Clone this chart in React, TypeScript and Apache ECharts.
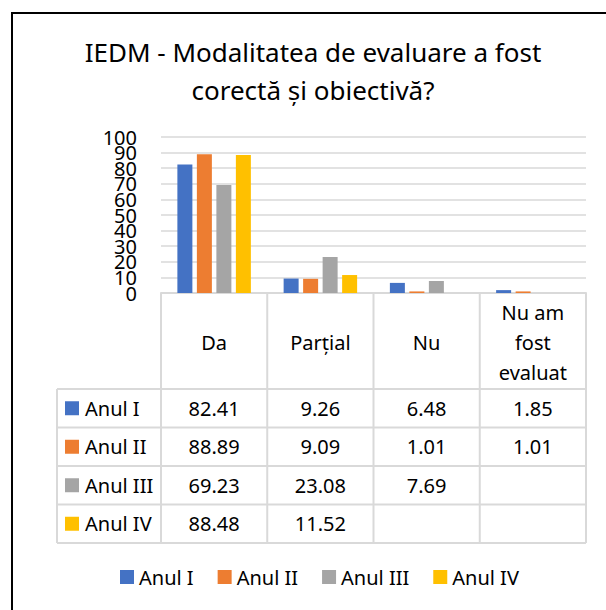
import React, { useEffect, useRef } from "react";
import * as echarts from "echarts";

const titleText = "IEDM - Modalitatea de evaluare a fost\ncorectă și obiectivă?";
const categories = ["Da", "Parțial", "Nu", "Nu am fost evaluat"];
const seriesNames = ["Anul I", "Anul II", "Anul III", "Anul IV"];
const anulI = [82.41, 9.26, 6.48, 1.85];
const anulII = [88.89, 9.09, 1.01, 1.01];
const anulIII = [69.23, 23.08, 7.69, null];
const anulIV = [88.48, 11.52, null, null];
const seriesValues = [anulI, anulII, anulIII, anulIV];
const colors = ["#4472C4", "#ED7D31", "#A5A5A5", "#FFC000"];
// even tick labels 0..100 (step 20) and odd tick labels 10..90 (step 20)
const yMin = 0;
const yMax = 100;
const yStep = 10;

const W = 606;
const H = 610;
const FONT = '"Noto Sans", "DejaVu Sans", sans-serif';
const GRID_LEFT = 161;
const GRID_RIGHT_X = 586;
const GRID_TOP = 137;
const GRID_BOTTOM_Y = 293;
const TABLE_LEFT = 57;
const HEADER_BOTTOM = 389;
const ROW_H = 38.5;
const LINE_COLOR = "#D9D9D9";

export default function App() {
  const ref = useRef<HTMLDivElement>(null);
  useEffect(() => {
    if (!ref.current) return;
    const chart = echarts.init(ref.current, null, { renderer: "svg", width: W, height: H });
    const colW = (GRID_RIGHT_X - GRID_LEFT) / categories.length;
    const tableBottom = HEADER_BOTTOM + ROW_H * seriesNames.length;
    const pxPerStep = ((GRID_BOTTOM_Y - GRID_TOP) * yStep) / (yMax - yMin);
    const g: any[] = [];
    // outer border (left + top visible)
    g.push({
      type: "rect",
      shape: { x: 12, y: 13, width: 800, height: 800 },
      style: { fill: "none", stroke: "#000", lineWidth: 2 },
    });
    // vertical table lines
    for (let i = 0; i <= categories.length; i++) {
      const x = GRID_LEFT + i * colW;
      g.push({
        type: "line",
        shape: { x1: x, y1: GRID_BOTTOM_Y, x2: x, y2: tableBottom },
        style: { stroke: LINE_COLOR, lineWidth: 2 },
      });
    }
    g.push({
      type: "line",
      shape: { x1: TABLE_LEFT, y1: HEADER_BOTTOM, x2: TABLE_LEFT, y2: tableBottom },
      style: { stroke: LINE_COLOR, lineWidth: 2 },
    });
    // horizontal table lines
    for (let r = 0; r <= seriesNames.length; r++) {
      const y = HEADER_BOTTOM + r * ROW_H;
      g.push({
        type: "line",
        shape: { x1: TABLE_LEFT, y1: y, x2: GRID_RIGHT_X, y2: y },
        style: { stroke: LINE_COLOR, lineWidth: 2 },
      });
    }
    // rows
    seriesNames.forEach((name, r) => {
      const cy = HEADER_BOTTOM + (r + 0.5) * ROW_H;
      g.push({
        type: "rect",
        shape: { x: 65, y: cy - 7, width: 14, height: 14 },
        style: { fill: colors[r] },
      });
      g.push({
        type: "text",
        style: {
          text: name,
          x: 85,
          y: cy,
          textAlign: "left",
          textVerticalAlign: "middle",
          font: `20px ${FONT}`,
          fill: "#000",
        },
      });
      seriesValues[r].forEach((v, c) => {
        if (v === null || v === undefined) return;
        g.push({
          type: "text",
          style: {
            text: (v as number).toFixed(2),
            x: GRID_LEFT + (c + 0.5) * colW,
            y: cy,
            textAlign: "center",
            textVerticalAlign: "middle",
            font: `20px ${FONT}`,
            fill: "#000",
          },
        });
      });
    });

    const yLabel = {
      margin: 24,
      color: "#000",
      fontFamily: FONT,
      fontSize: 20,
      showMinLabel: true,
      showMaxLabel: true,
    };

    chart.setOption({
      animation: false,
      backgroundColor: "#fff",
      textStyle: { fontFamily: FONT },
      title: {
        text: titleText,
        left: 313,
        top: 33,
        textAlign: "center",
        padding: 0,
        textStyle: {
          fontFamily: FONT,
          fontSize: 26,
          fontWeight: "normal",
          color: "#000",
          lineHeight: 38,
        },
      },
      legend: {
        data: seriesNames,
        left: 120,
        top: 567,
        icon: "rect",
        itemWidth: 14,
        itemHeight: 14,
        itemGap: 24,
        padding: 0,
        textStyle: { fontFamily: FONT, fontSize: 20, color: "#000", padding: [0, 0, 0, 0] },
      },
      grid: [
        {
          left: GRID_LEFT,
          right: W - GRID_RIGHT_X,
          top: GRID_TOP,
          bottom: H - GRID_BOTTOM_Y,
          containLabel: false,
        },
        {
          left: GRID_LEFT,
          right: W - GRID_RIGHT_X,
          top: GRID_TOP + pxPerStep,
          bottom: H - GRID_BOTTOM_Y + pxPerStep,
          containLabel: false,
        },
      ],
      xAxis: [
        {
          type: "category",
          gridIndex: 0,
          data: categories,
          axisLine: { show: true, lineStyle: { color: LINE_COLOR, width: 2 } },
          axisTick: { show: false },
          axisLabel: {
            interval: 0,
            margin: 49,
            verticalAlign: "middle",
            fontFamily: FONT,
            fontSize: 20,
            lineHeight: 30,
            color: "#000",
            formatter: (v: string) => (v === "Nu am fost evaluat" ? "Nu am\nfost\nevaluat" : v),
          },
        },
        {
          type: "category",
          gridIndex: 1,
          data: categories,
          show: false,
        },
      ],
      yAxis: [
        {
          type: "value",
          gridIndex: 0,
          min: yMin,
          max: yMax,
          interval: yStep * 2,
          axisLine: { show: false },
          axisTick: { show: false },
          splitLine: { lineStyle: { color: LINE_COLOR, width: 1.5 } },
          axisLabel: yLabel,
        },
        {
          type: "value",
          gridIndex: 1,
          min: yMin + yStep,
          max: yMax - yStep,
          interval: yStep * 2,
          axisLine: { show: false },
          axisTick: { show: false },
          splitLine: { lineStyle: { color: LINE_COLOR, width: 1.5 } },
          axisLabel: yLabel,
        },
      ],
      series: seriesNames.map((name, i) => ({
        name,
        type: "bar",
        xAxisIndex: 0,
        yAxisIndex: 0,
        data: seriesValues[i],
        barWidth: 15,
        barGap: "30%",
        itemStyle: { color: colors[i] },
        z: 3,
      })),
      graphic: g,
    });
    return () => chart.dispose();
  }, []);
  return (
    <div
      ref={ref}
      style={{ position: "fixed", left: 0, top: 0, width: W, height: H, overflow: "hidden", background: "#fff" }}
    />
  );
}
